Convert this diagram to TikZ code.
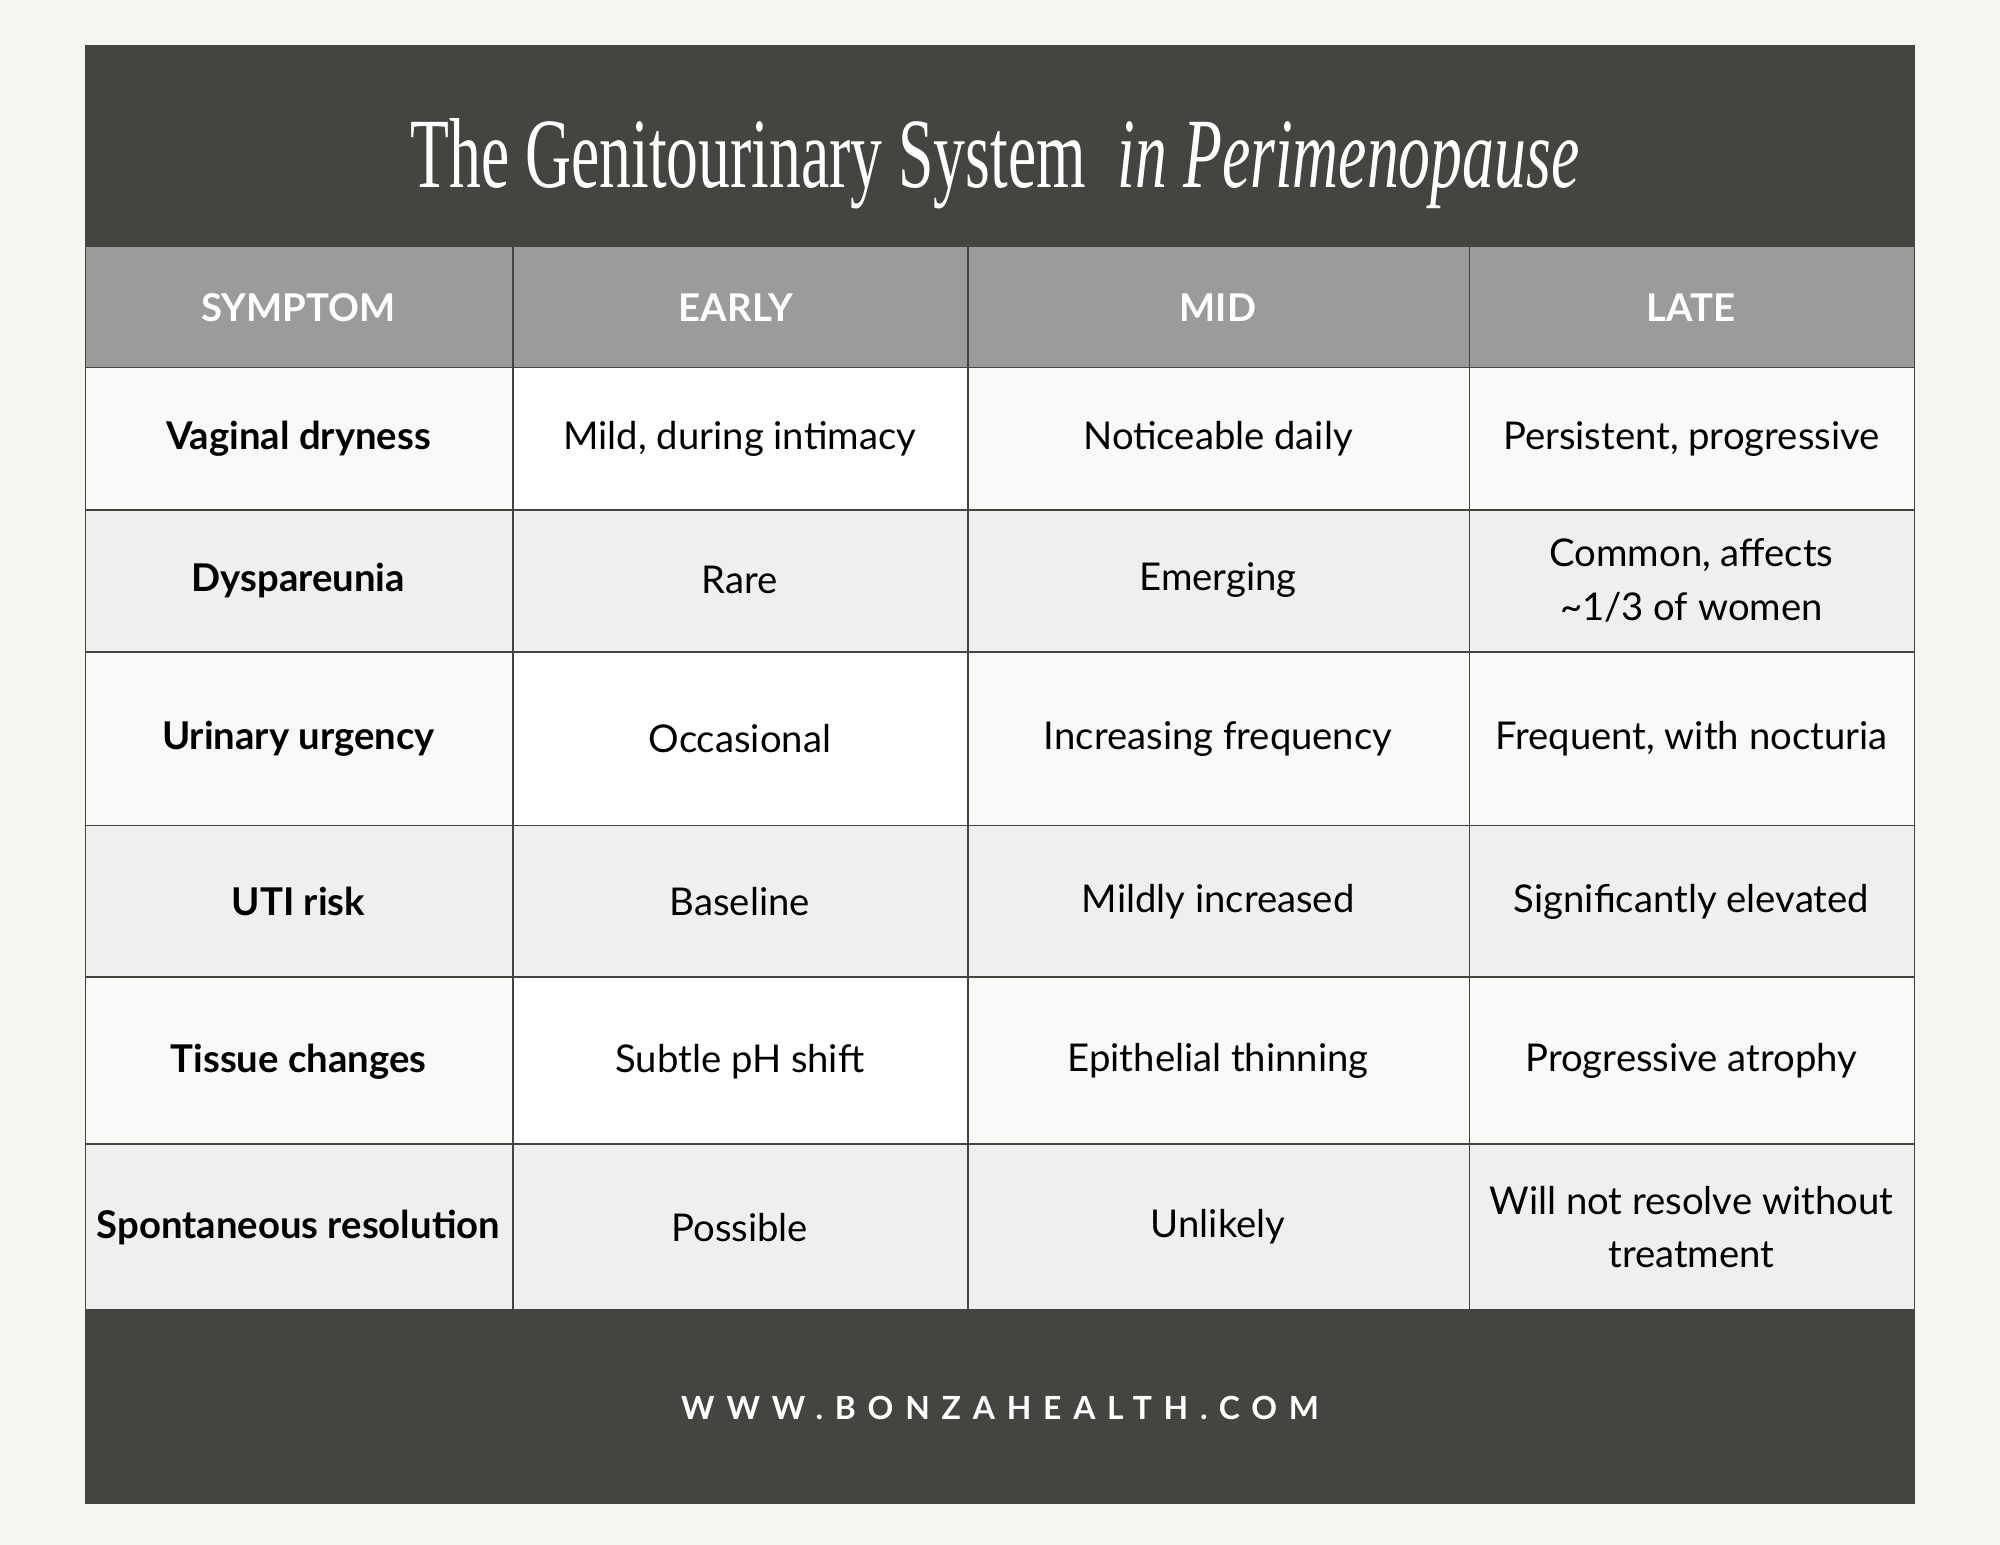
\documentclass[tikz,border=0pt]{standalone}
\usepackage{fontspec}
\setmainfont{Lato}
\newfontfamily\titlefont{Liberation Serif}
\definecolor{dark}{HTML}{434541}
\definecolor{hdr}{HTML}{9B9B9B}
\definecolor{lite}{HTML}{F9F9F7}
\definecolor{alt}{HTML}{EFEFEF}
\definecolor{bg}{HTML}{F5F5F2}
\begin{document}
\begin{tikzpicture}[x=0.5pt,y=-0.5pt,
  cell/.style={align=center,font=\fontsize{15}{21}\selectfont,text=black},
  bcell/.style={cell,font=\fontsize{15}{21}\selectfont\bfseries},
  hcell/.style={font=\fontsize{15}{18}\selectfont\bfseries,text=white}]
\fill[bg] (0,0) rectangle (1568,1211);
\useasboundingbox (0,0) rectangle (1568,1211);
\fill[dark] (67,35) rectangle (1501,193);
\fill[dark] (67,1027) rectangle (1501,1179);
\fill[hdr] (67,193) rectangle (1501,288);
\foreach \a/\b/\c in {288/400/1,400/511/2,511/647/1,647/766/2,766/897/1,897/1027/2}{
  \ifnum\c=1
    \fill[lite] (67,\a) rectangle (1501,\b);
    \fill[white] (402,\a) rectangle (759,\b);
  \else
    \fill[alt] (67,\a) rectangle (1501,\b);
  \fi}
\draw[dark,line width=0.6pt] (67,193) rectangle (1501,1027);
\foreach \y in {288,400,511,647,766,897} \draw[dark,line width=0.6pt] (67,\y)--(1501,\y);
\foreach \x in {402,759,1152} \draw[dark,line width=0.6pt] (\x,193)--(\x,1027);
\node[text=white] (title) at (780,128) {\scalebox{0.64}[1]{\titlefont\fontsize{39}{42}\selectfont The Genitourinary System \ \textit{in Perimenopause}}};
\node[hcell] (h1) at (234,241) {SYMPTOM};
\node[hcell] (h2) at (577,241) {EARLY};
\node[hcell] (h3) at (955,241) {MID};
\node[hcell] (h4) at (1326,241) {LATE};
\foreach \y/\s/\e/\m/\l [count=\i] in {
 344/Vaginal dryness/{Mild, during intimacy}/Noticeable daily/{Persistent, progressive},
 455/Dyspareunia/Rare/Emerging/{Common, affects\\\textasciitilde1/3 of women},
 579/Urinary urgency/Occasional/Increasing frequency/{Frequent, with nocturia},
 707/UTI risk/Baseline/Mildly increased/Significantly elevated,
 832/Tissue changes/{Subtle pH shift}/Epithelial thinning/Progressive atrophy,
 962/Spontaneous resolution/Possible/Unlikely/{Will not resolve without\\treatment}}{
 \node[bcell] (s\i) at (234,\y) {\s};
 \node[cell] (e\i) at (580,\y) {\e};
 \node[cell] (m\i) at (955,\y) {\m};
 \node[cell] (l\i) at (1326,\y) {\l};}
\node[text=white,font=\fontsize{12.5}{14}\selectfont\bfseries] (url) at (784,1104) {\addfontfeature{LetterSpace=37}WWW.BONZAHEALTH.COM};
\end{tikzpicture}
\end{document}
